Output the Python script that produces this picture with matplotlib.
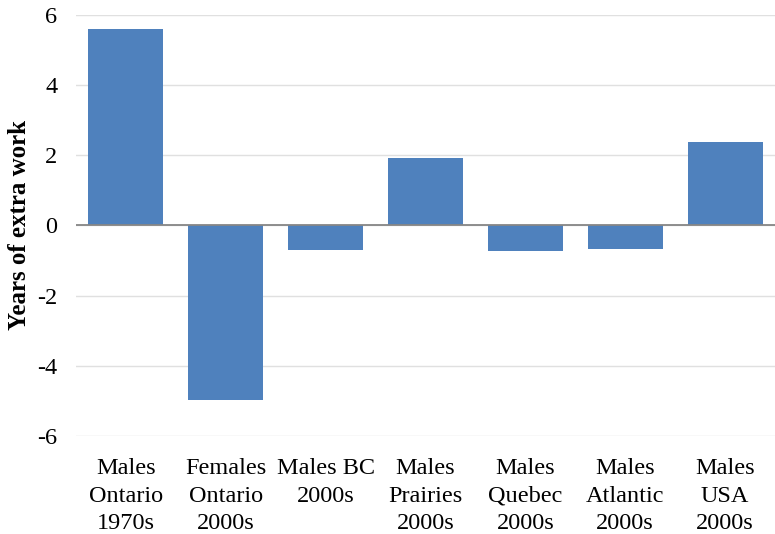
import matplotlib
matplotlib.use("Agg")
import matplotlib.pyplot as plt

categories = [
    "Males\nOntario\n1970s",
    "Females\nOntario\n2000s",
    "Males BC\n2000s",
    "Males\nPrairies\n2000s",
    "Males\nQuebec\n2000s",
    "Males\nAtlantic\n2000s",
    "Males\nUSA\n2000s",
]
extra_work = [5.59, -4.97, -0.71, 1.92, -0.72, -0.67, 2.38]
y_ticks = [-6, -4, -2, 0, 2, 4, 6]

plt.rcParams["font.family"] = ["Liberation Serif", "DejaVu Serif"]

fig = plt.figure(figsize=(7.75, 5.34), dpi=100)
ax = fig.add_axes([0.098, 0.1835, 0.902, 0.789])

x = range(len(categories))
ax.bar(x, extra_work, width=0.75, color="#4f81bd", zorder=3)

ax.set_xlim(-0.5, len(categories) - 0.5)
ax.set_ylim(-6, 6)
ax.set_yticks(y_ticks)
ax.set_yticklabels([str(t) for t in y_ticks], fontsize=17.5)
ax.set_xticks(list(x))
ax.set_xticklabels(categories, fontsize=17.5, linespacing=1.4, va="top")

ax.grid(axis="y", color="#e0e0e0", linewidth=1, zorder=0)
ax.axhline(0, color="#868686", linewidth=1.3, zorder=4)
for s in ax.spines.values():
    s.set_visible(False)
ax.tick_params(axis="both", length=0)
ax.tick_params(axis="y", pad=13.5)
ax.tick_params(axis="x", pad=16)

ax.set_ylabel("Years of extra work", fontsize=18, fontweight="bold", labelpad=4.5)

fig.savefig("out.png", dpi=100)
